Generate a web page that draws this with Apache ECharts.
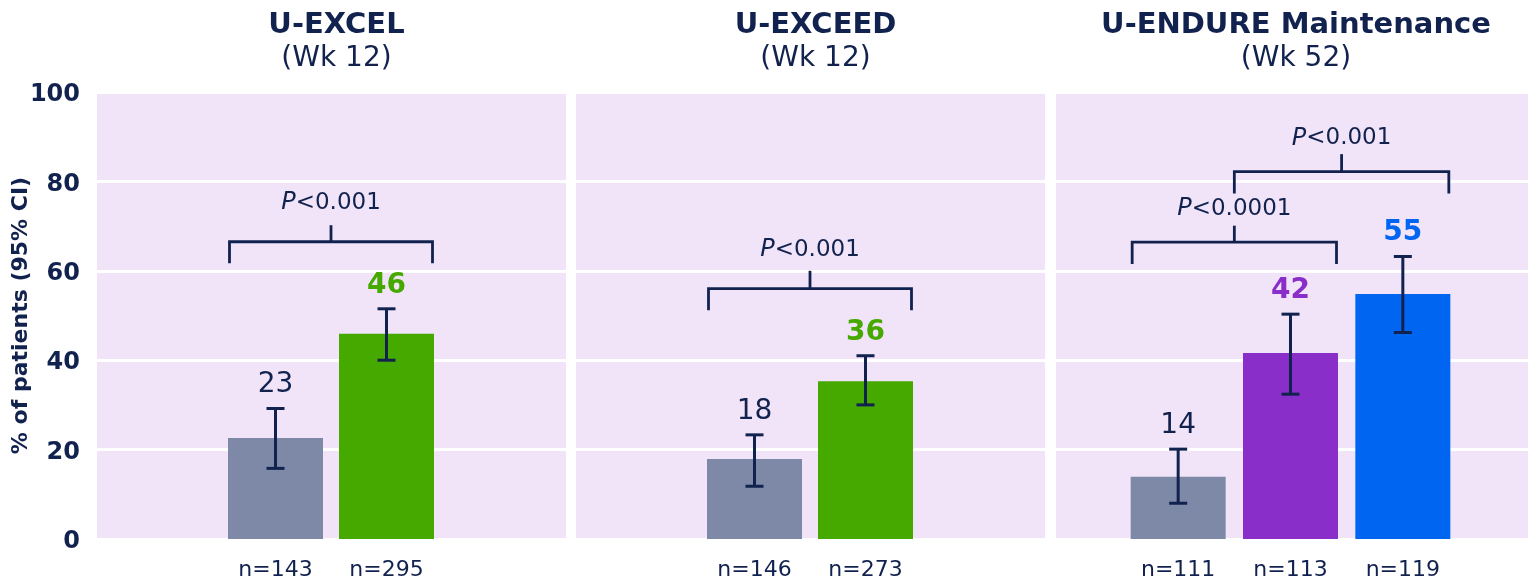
<!DOCTYPE html>
<html><head><meta charset="utf-8">
<script src="https://cdn.jsdelivr.net/npm/echarts@6/dist/echarts.min.js"></script>
<style>html,body{margin:0;padding:0;background:#fff}#c{width:1528px;height:582px}</style>
</head><body><div id="c"></div>
<script>
// ---------------- data ----------------
const titles = ['U-EXCEL', 'U-EXCEED', 'U-ENDURE Maintenance'];
const subtitles = ['(Wk 12)', '(Wk 12)', '(Wk 52)'];
const yAxisName = '% of patients (95% CI)';
const yMin = 0, yMax = 100, yStep = 20;

const excelN = ['n=143', 'n=295'];
const excelValues = [22.6, 45.9];
const excelLow = [15.8, 40.0];
const excelHigh = [29.2, 51.5];
const excelLabels = ['23', '46'];

const exceedN = ['n=146', 'n=273'];
const exceedValues = [17.9, 35.3];
const exceedLow = [11.8, 30.0];
const exceedHigh = [23.3, 41.0];
const exceedLabels = ['18', '36'];

const endureN = ['n=111', 'n=113', 'n=119'];
const endureValues = [13.9, 41.6, 54.8];
const endureLow = [8.0, 32.4, 46.2];
const endureHigh = [20.1, 50.3, 63.2];
const endureLabels = ['14', '42', '55'];

// brackets: from/to = [category, edge(-1 left, +1 right)] or index of another bracket (its midpoint)
const excelBrackets = [
  { from: [0, -1], to: [1, 1], line: 66.5, leg: 61.7, tick: 70.2, textY: 75.2, p: '<0.001' }
];
const exceedBrackets = [
  { from: [0, -1], to: [1, 1], line: 56.0, leg: 51.2, tick: 60.0, textY: 64.7, p: '<0.001' }
];
const endureBrackets = [
  { from: [0, -1], to: [1, 1], line: 66.4, leg: 61.5, tick: 70.1, textY: 73.8, p: '<0.0001' },
  { from: 0, to: [2, 1], line: 82.2, leg: 77.3, tick: 86.1, textY: 89.6, p: '<0.001' }
];

// ---------------- style ----------------
const NAVY = '#12224F';
const GRAY = '#7E88A7', GREEN = '#46A900', PURPLE = '#8A2ECA', BLUE = '#0066F2';
const BG = '#F1E4F8';
const FONT = 'DejaVu Sans';
const BAR_W = 95;

const excelColors = [GRAY, GREEN];
const exceedColors = [GRAY, GREEN];
const endureColors = [GRAY, PURPLE, BLUE];
const excelLabelStyle = [[NAVY, 'normal'], [GREEN, 'bold']];
const exceedLabelStyle = [[NAVY, 'normal'], [GREEN, 'bold']];
const endureLabelStyle = [[NAVY, 'normal'], [PURPLE, 'bold'], [BLUE, 'bold']];

const bgGrids = [
  { left: 97, top: 92, width: 469, height: 447 },
  { left: 576, top: 92, width: 469, height: 447 },
  { left: 1056, top: 92, width: 472, height: 447 }
];
const barGrids = [
  { left: 220, top: 92, width: 222, height: 447 },
  { left: 699, top: 92, width: 222, height: 447 },
  { left: 1122, top: 92, width: 337, height: 447 }
];
const titleCenters = [331.5, 810.5, 1291];

const chart = echarts.init(document.getElementById('c'), null, { renderer: 'canvas' });

function barSeries(idx, values, colors) {
  return {
    type: 'bar', xAxisIndex: 3 + idx, yAxisIndex: 3 + idx, barWidth: BAR_W, z: 2,
    silent: true,
    data: values.map((v, i) => ({ value: v, itemStyle: { color: colors[i] } }))
  };
}

function errorSeries(idx, low, high, labels, labelStyle) {
  return {
    type: 'custom', xAxisIndex: 3 + idx, yAxisIndex: 3 + idx, z: 5, silent: true,
    data: low.map((l, i) => [i, l, high[i]]),
    encode: { x: 0, y: [1, 2] },
    renderItem: function (params, api) {
      const i = api.value(0);
      const lo = api.coord([i, api.value(1)]);
      const hi = api.coord([i, api.value(2)]);
      const x = lo[0];
      const cap = 9;
      const ls = labelStyle[params.dataIndex];
      return {
        type: 'group',
        children: [
          { type: 'line', shape: { x1: x, y1: lo[1], x2: x, y2: hi[1] }, style: { stroke: NAVY, lineWidth: 3 } },
          { type: 'line', shape: { x1: x - cap, y1: lo[1], x2: x + cap, y2: lo[1] }, style: { stroke: NAVY, lineWidth: 3 } },
          { type: 'line', shape: { x1: x - cap, y1: hi[1], x2: x + cap, y2: hi[1] }, style: { stroke: NAVY, lineWidth: 3 } },
          { type: 'text', style: { text: labels[params.dataIndex], x: x, y: hi[1] - 23.5, align: 'center', verticalAlign: 'middle',
              fill: ls[0], fontWeight: ls[1], fontSize: 28, fontFamily: FONT } }
        ]
      };
    }
  };
}

function bracketSeries(idx, brackets) {
  return {
    type: 'custom', xAxisIndex: 3 + idx, yAxisIndex: 3 + idx, z: 6, silent: true,
    data: brackets.map((b, i) => [i, b.line]),
    encode: { x: 0, y: 1 },
    renderItem: function (params, api) {
      const edge = (e) => {
        if (typeof e === 'number') {
          return (edge(brackets[e].from) + edge(brackets[e].to)) / 2;
        }
        return api.coord([e[0], 0])[0] + e[1] * (BAR_W / 2 - 1.5);
      };
      const b = brackets[params.dataIndex];
      const x1 = edge(b.from), x2 = edge(b.to), xm = (x1 + x2) / 2;
      const yLine = api.coord([0, b.line])[1];
      const yLeg = api.coord([0, b.leg])[1];
      const yTick = api.coord([0, b.tick])[1];
      const yText = api.coord([0, b.textY])[1];
      return {
        type: 'group',
        children: [
          { type: 'polyline', shape: { points: [[x1, yLeg], [x1, yLine], [x2, yLine], [x2, yLeg]] },
            style: { stroke: NAVY, lineWidth: 2.8, fill: null } },
          { type: 'line', shape: { x1: xm, y1: yLine, x2: xm, y2: yTick }, style: { stroke: NAVY, lineWidth: 2.8 } },
          { type: 'text', style: { text: '{i|P}{n|' + b.p + '}', x: xm, y: yText, align: 'center', verticalAlign: 'middle',
              fill: NAVY, fontSize: 24, fontFamily: FONT,
              rich: { i: { fontStyle: 'italic', fill: NAVY, fontSize: 24, fontFamily: FONT },
                      n: { fill: NAVY, fontSize: 23, fontFamily: FONT } } } }
        ]
      };
    }
  };
}

const nLists = [excelN, exceedN, endureN];

const option = {
  animation: false,
  backgroundColor: '#ffffff',
  title: titles.map((t, i) => ({
    text: t, subtext: subtitles[i], left: titleCenters[i], top: 6, textAlign: 'center', itemGap: 5,
    textStyle: { fontFamily: FONT, fontSize: 29, fontWeight: 'bold', color: NAVY },
    subtextStyle: { fontFamily: FONT, fontSize: 28, fontWeight: 'normal', color: NAVY }
  })),
  grid: bgGrids.map(g => Object.assign({ show: true, backgroundColor: BG, borderWidth: 0 }, g))
    .concat(barGrids.map(g => Object.assign({ show: false }, g))),
  xAxis: bgGrids.map((g, i) => ({ type: 'value', gridIndex: i, show: false, min: 0, max: 1 }))
    .concat(nLists.map((n, i) => ({
      type: 'category', gridIndex: 3 + i, data: n,
      axisLine: { show: false }, axisTick: { show: false },
      axisLabel: { fontFamily: FONT, fontSize: 22, color: NAVY, margin: 20 }
    }))),
  yAxis: bgGrids.map((g, i) => ({
    type: 'value', gridIndex: i, min: yMin, max: yMax, interval: yStep,
    axisLine: { show: false }, axisTick: { show: false },
    splitLine: { show: true, lineStyle: { color: '#ffffff', width: 3 } },
    axisLabel: { show: i === 0, fontFamily: FONT, fontSize: 24, fontWeight: 'bold', color: NAVY, margin: 17,
      formatter: '{a|{value}}', rich: { a: { fontFamily: FONT, fontSize: 24, fontWeight: 'bold', color: NAVY, padding: [6, 0, 0, 0] } } },
    name: i === 0 ? yAxisName : '', nameLocation: 'middle', nameGap: 65, nameRotate: 90, nameMoveOverlap: false,
    nameTextStyle: { fontFamily: FONT, fontSize: 22, fontWeight: 'bold', color: NAVY }
  })).concat(barGrids.map((g, i) => ({ type: 'value', gridIndex: 3 + i, min: yMin, max: yMax, show: false, splitLine: { show: false } }))),
  series: [
    barSeries(0, excelValues, excelColors),
    barSeries(1, exceedValues, exceedColors),
    barSeries(2, endureValues, endureColors),
    errorSeries(0, excelLow, excelHigh, excelLabels, excelLabelStyle),
    errorSeries(1, exceedLow, exceedHigh, exceedLabels, exceedLabelStyle),
    errorSeries(2, endureLow, endureHigh, endureLabels, endureLabelStyle),
    bracketSeries(0, excelBrackets),
    bracketSeries(1, exceedBrackets),
    bracketSeries(2, endureBrackets)
  ]
};
chart.setOption(option);
</script>
</body></html>
